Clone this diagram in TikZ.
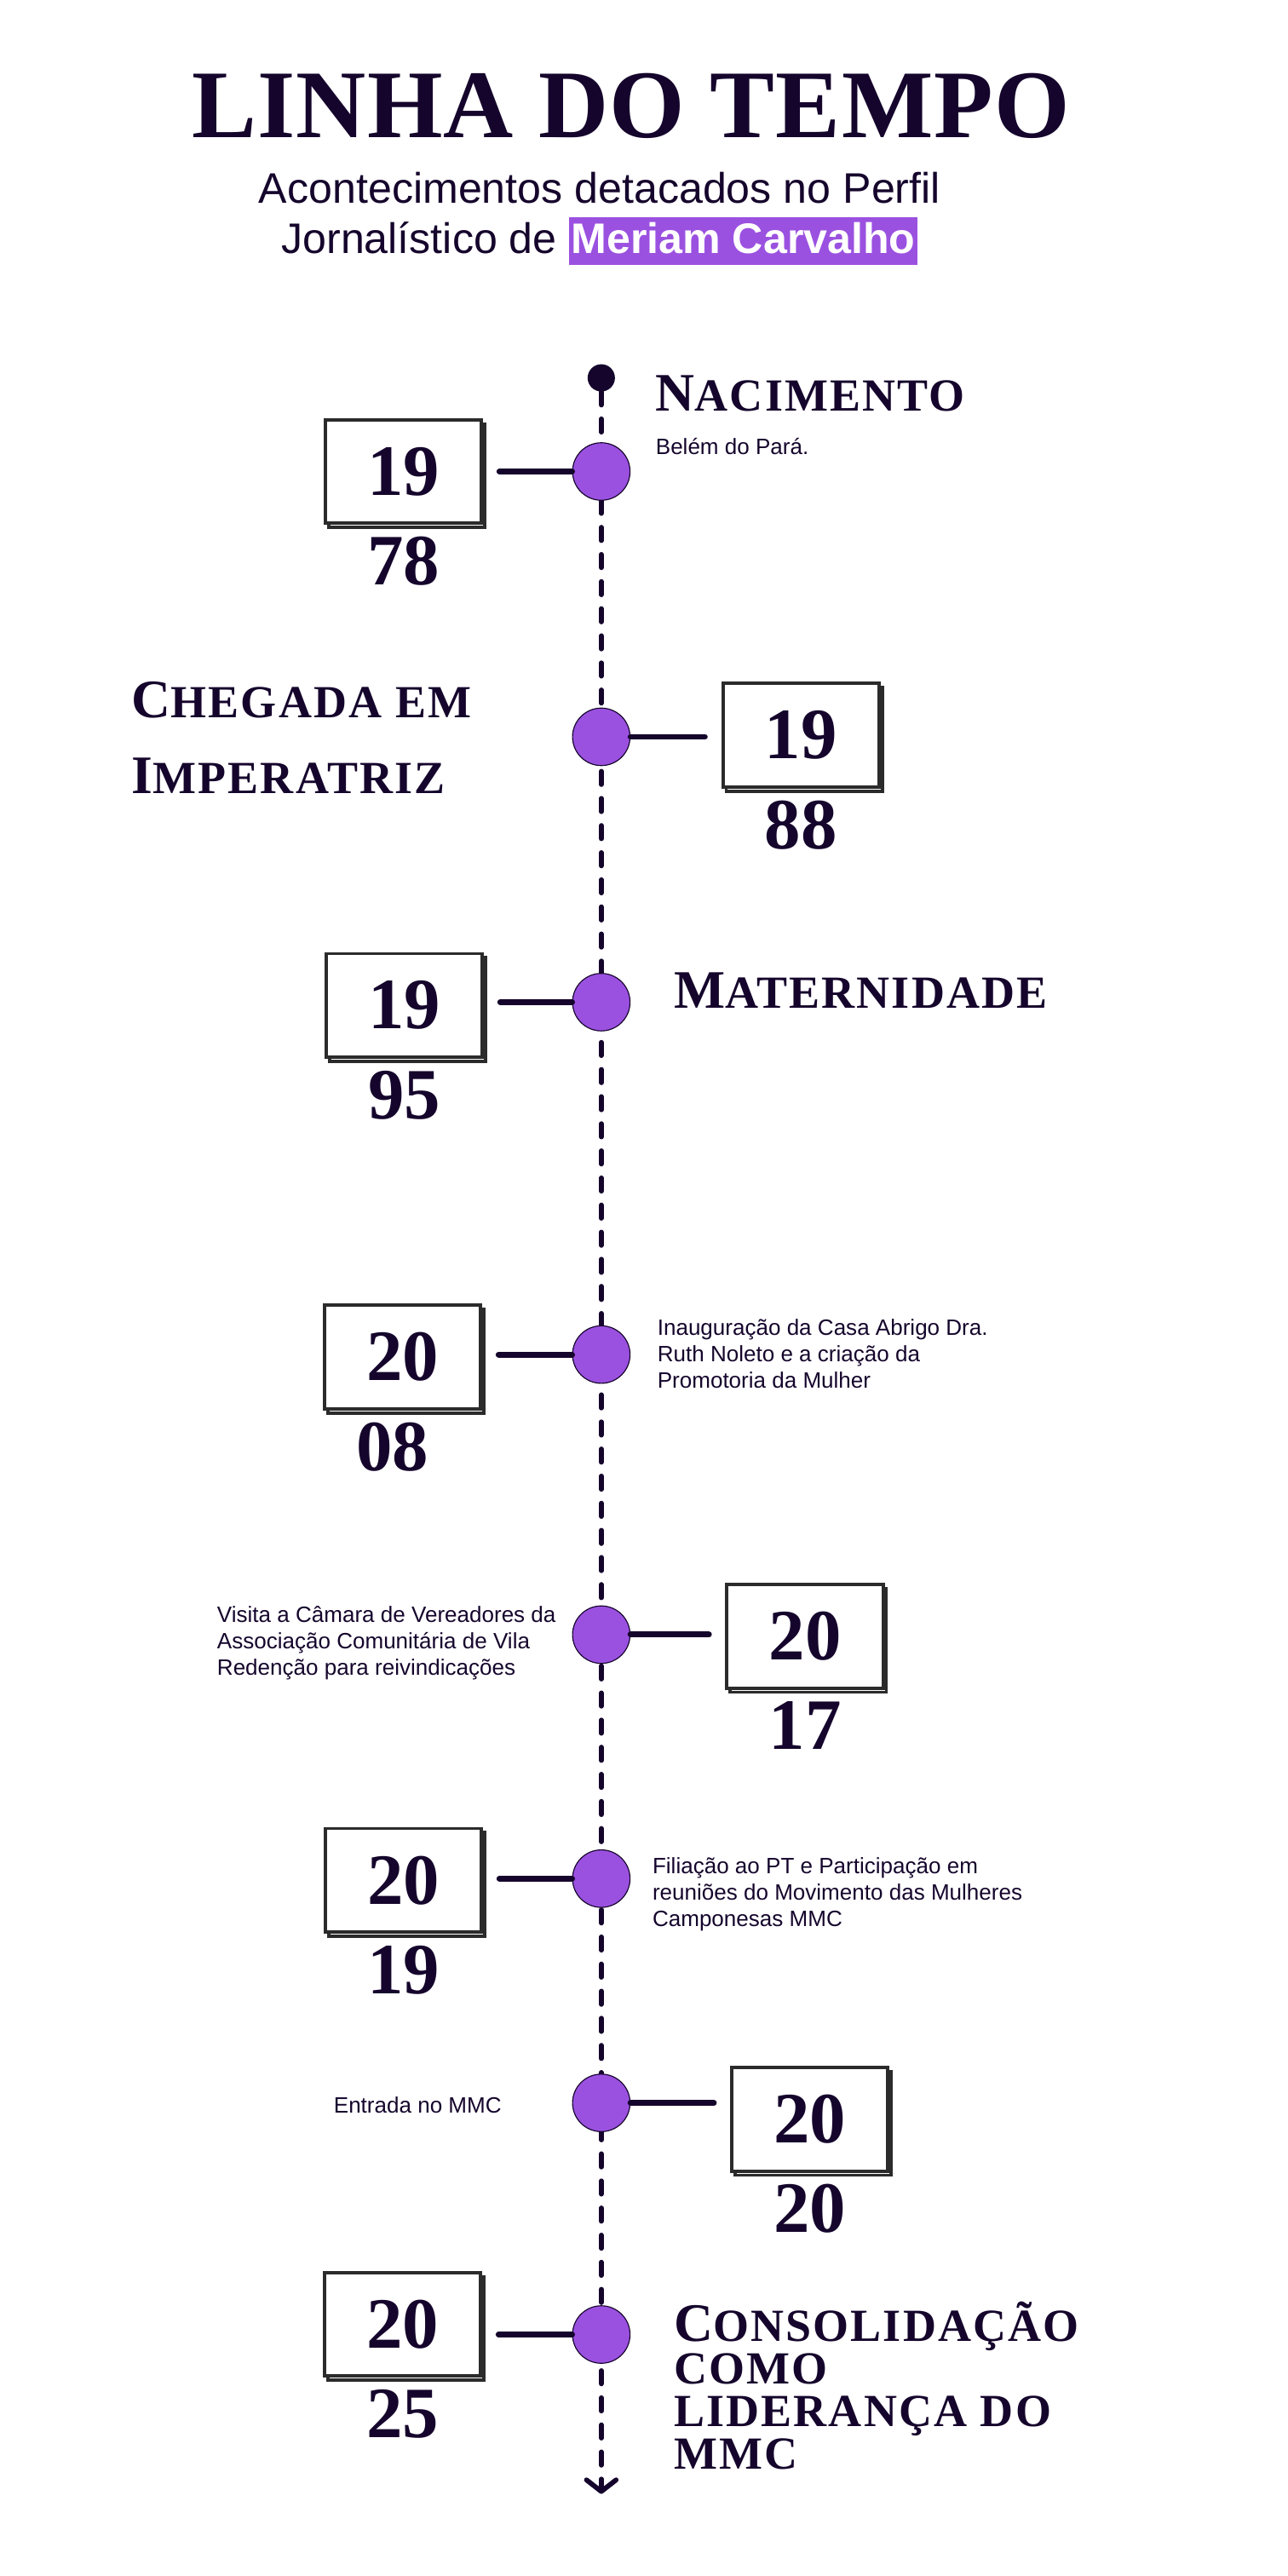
\documentclass[tikz,border=0pt]{standalone}
\usepackage{fontspec}
\usepackage{xcolor}
\usetikzlibrary{arrows.meta,positioning,shadows}
\setmainfont{Liberation Serif}
\newfontfamily\sansfont{Liberation Sans}
\definecolor{ink}{HTML}{15052C}
\definecolor{violeta}{HTML}{9B51E0}
\definecolor{boxgray}{HTML}{2B2B2B}

\newcommand{\versal}[2]{{\fontsize{33}{33}\selectfont #1}{\fontsize{28}{28}\selectfont #2}}
\newcommand{\destaque}[1]{{\setlength{\fboxsep}{1.5pt}\colorbox{violeta}{\rule[-5pt]{0pt}{26pt}\color{white}\bfseries #1}}}

\begin{document}
\begin{tikzpicture}[x = 1pt, y = 1pt,
		evento/.style = {circle, draw = ink, line width = 0.6pt, fill = violeta, minimum size = 35pt, inner sep = 0pt},
		anobox/.style = {draw = boxgray, line width = 2pt, fill = white, minimum width = 95pt, minimum height = 63pt, inner sep = 0pt, text = ink, font = {\fontsize{44}{44}\selectfont\bfseries}, copy shadow = {shadow xshift = 2pt, shadow yshift = -2.5pt}},
		anobaixo/.style = {text = ink, font = {\fontsize{44}{44}\selectfont\bfseries}, inner sep = 0pt},
		ligacao/.style = {draw = ink, line width = 3.6pt, line cap = round},
		linha/.style = {draw = ink, line width = 3pt, line cap = round, dash pattern = on 8pt off 8.5pt},
		titulo/.style = {text = ink, font = {\bfseries\addfontfeature{LetterSpace = 4}\fontsize{28}{46}\selectfont}, inner sep = 0pt, anchor = base west, align = left},
		texto/.style = {text = ink, font = {\sansfont\fontsize{13.5}{16}\selectfont}, inner sep = 0pt, anchor = base west, align = left}
		]
\useasboundingbox (0,0) rectangle (784,-1568);

\node[text = ink, font = {\fontsize{59}{59}\selectfont\bfseries\addfontfeature{LetterSpace = 1}}, inner sep = 0pt, anchor = base] (cabeca) at (384,-83.5) {LINHA DO TEMPO};
\node[text = ink, font = {\sansfont\fontsize{26}{26}\selectfont}, inner sep = 0pt, anchor = base] (sub1) at (365,-123.5) {Acontecimentos detacados no Perfil};
\node[text = ink, font = {\sansfont\fontsize{26}{26}\selectfont}, inner sep = 0pt, anchor = base] (sub2) at (365,-154.5) {Jornalístico de \destaque{Meriam Carvalho}};

\node[circle, fill = ink, minimum size = 16.6pt, inner sep = 0pt] (inicio) at (366,-230) {};
\coordinate (fim) at (366,-1518);
\draw[linha, -{Straight Barb[length = 7pt, width = 18pt, round]}] (inicio) -- (fim);

\node[evento] (e1) at (366,-287) {};
\node[anobox] (a1) at (245.5,-287) {19};
\node[anobaixo, below = 7pt of a1] (b1) {78};
\draw[ligacao, shorten < = 10pt] (a1.east |- e1) -- (e1.west);
\node[titulo, font = {\bfseries\addfontfeature{LetterSpace = 4}\fontsize{28}{28}\selectfont}] (t1) at (399,-250) {\versal{N}{ACIMENTO}};
\node[texto] (d1) at (399,-276.5) {Belém do Pará.};

\node[evento] (e2) at (366,-448.5) {};
\node[anobox] (a2) at (487.5,-447.5) {19};
\node[anobaixo, below = 7pt of a2] (b2) {88};
\draw[ligacao, shorten > = 10pt] (e2.east) -- (e2 -| a2.west);
\node[titulo] (t2) at (80,-483) {\versal{C}{HEGADA EM}\\\versal{I}{MPERATRIZ}};

\node[evento] (e3) at (366,-610) {};
\node[anobox] (a3) at (246,-612) {19};
\node[anobaixo, below = 7pt of a3] (b3) {95};
\draw[ligacao, shorten < = 10pt] (a3.east |- e3) -- (e3.west);
\node[titulo] (t3) at (410,-613.7) {\versal{M}{ATERNIDADE}};

\node[evento] (e4) at (366,-824.5) {};
\node[anobox] (a4) at (245,-826) {20};
\node[anobaixo, below = 7pt of a4, xshift = -6pt] (b4) {08};
\draw[ligacao, shorten < = 10pt] (a4.east |- e4) -- (e4.west);
\node[texto] (d4) at (400,-844.7) {Inauguração da Casa Abrigo Dra.\\Ruth Noleto e a criação da\\Promotoria da Mulher};

\node[evento] (e5) at (366,-995) {};
\node[anobox] (a5) at (490,-996) {20};
\node[anobaixo, below = 7pt of a5] (b5) {17};
\draw[ligacao, shorten > = 10pt] (e5.east) -- (e5 -| a5.west);
\node[texto] (d5) at (132,-1019.5) {Visita a Câmara de Vereadores da\\Associação Comunitária de Vila\\Redenção para reivindicações};

\node[evento] (e6) at (366,-1143.5) {};
\node[anobox] (a6) at (245.5,-1144.5) {20};
\node[anobaixo, below = 7pt of a6] (b6) {19};
\draw[ligacao, shorten < = 10pt] (a6.east |- e6) -- (e6.west);
\node[texto] (d6) at (397,-1172.5) {Filiação ao PT e Participação em\\reuniões do Movimento das Mulheres\\Camponesas MMC};

\node[evento] (e7) at (366,-1280) {};
\node[anobox] (a7) at (493,-1290) {20};
\node[anobaixo, below = 7pt of a7] (b7) {20};
\draw[ligacao, shorten > = 10pt] (e7.east) -- (e7 -| a7.west);
\node[texto] (d7) at (203,-1286) {Entrada no MMC};

\node[evento] (e8) at (366,-1421) {};
\node[anobox] (a8) at (245,-1414.7) {20};
\node[anobaixo, below = 7pt of a8] (b8) {25};
\draw[ligacao, shorten < = 10pt] (a8.east |- e8) -- (e8.west);
\node[titulo, font = {\bfseries\addfontfeature{LetterSpace = 4}\fontsize{28}{26}\selectfont}] (t8) at (410,-1503) {\versal{C}{ONSOLIDAÇÃO}\\COMO\\LIDERANÇA DO\\MMC};

\end{tikzpicture}
\end{document}
